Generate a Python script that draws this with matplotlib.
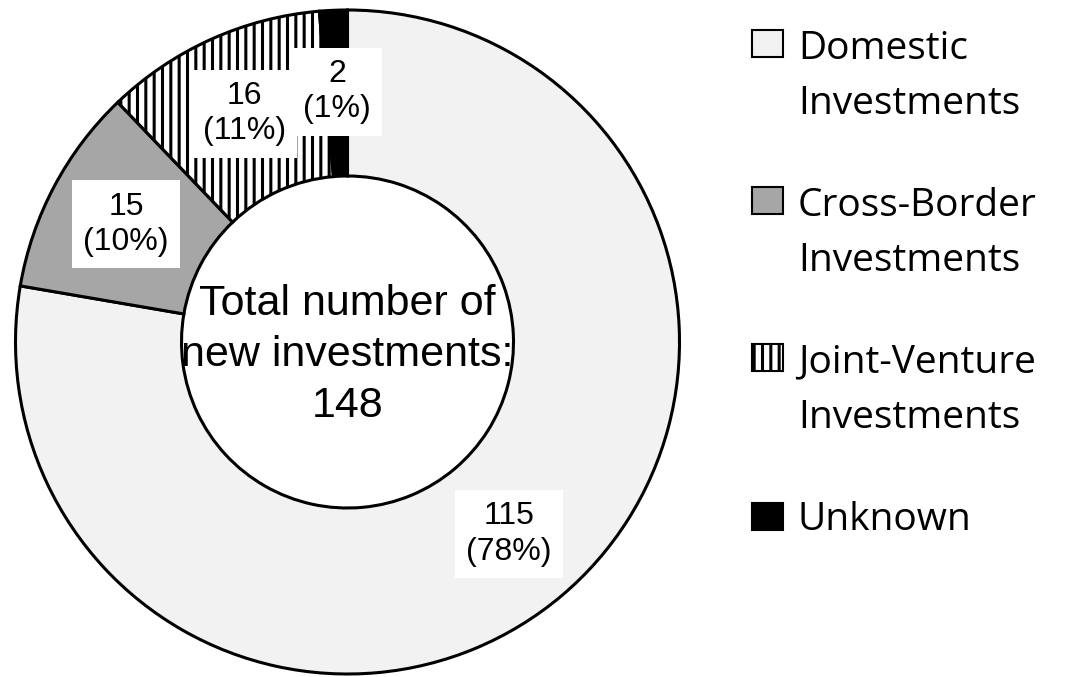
import matplotlib.pyplot as plt
import numpy as np
from matplotlib.patches import Rectangle
from matplotlib.legend_handler import HandlerPatch

# data
categories = ['Domestic\nInvestments', 'Cross-Border\nInvestments',
              'Joint-Venture\nInvestments', 'Unknown']
counts = [115, 15, 16, 2]
percents = [78, 10, 11, 1]
total = 148

colours = ['#f2f2f2', '#a6a6a6', 'white', 'black']
hatches = ['', '', '||', '']

plt.rcParams['hatch.linewidth'] = 2.2
plt.rcParams['font.family'] = 'Liberation Sans'

LEG_FS = 28
LEG_SHIFT = 24.5  # points, lifts the box up to the first line of the label


class TopAligned(HandlerPatch):
  # puts the legend box next to the first line of a two line label
  def __init__(self, shift):
    HandlerPatch.__init__(self)
    self.shift = shift

  def create_artists(self, legend, orig_handle, xdescent, ydescent,
                     width, height, fontsize, trans):
    p = Rectangle((-xdescent, -ydescent + self.shift), width, height)
    self.update_prop(p, orig_handle, legend)
    p.set_linewidth(1.5)
    p.set_transform(trans)
    return [p]


fig = plt.figure(figsize=(10.89, 6.77), dpi=100)
ax = fig.add_axes([15.5 / 1089, 3 / 677, 664 / 1089, 664 / 677])

wedges, _ = ax.pie(counts, colors=colours, startangle=90, counterclock=False,
                   radius=1, wedgeprops=dict(width=0.5, edgecolor='black', linewidth=2.2))
for w, h in zip(wedges, hatches):
  w.set_hatch(h)
  w.set_clip_on(False)

ax.set_xlim(-1, 1)
ax.set_ylim(-1, 1)

for w, n, p in zip(wedges, counts, percents):
  mid = np.deg2rad((w.theta1 + w.theta2) / 2)
  ax.text(0.755 * np.cos(mid), 0.755 * np.sin(mid), '%d\n(%d%%)' % (n, p),
          ha='center', va='center', fontsize=23, linespacing=1.25,
          bbox=dict(boxstyle='square,pad=0.35', facecolor='white', edgecolor='none'))

ax.text(0, -0.04, 'Total number of\nnew investments:\n%d' % total,
        ha='center', va='center', fontsize=31, linespacing=1.35)

shifts = [LEG_SHIFT * c.count('\n') for c in categories]
leg = fig.legend(wedges, categories, loc='upper left', bbox_to_anchor=(752 / 1089, 0.956),
                 frameon=False, prop={'family': 'Open Sans', 'size': LEG_FS},
                 handlelength=0.8, handleheight=0.69, handletextpad=0.38,
                 borderpad=0, borderaxespad=0, labelspacing=1.65,
                 handler_map={w: TopAligned(s) for w, s in zip(wedges, shifts)})
for t in leg.get_texts():
  t.set_linespacing(1.58)

plt.savefig('out.png', dpi=100)
